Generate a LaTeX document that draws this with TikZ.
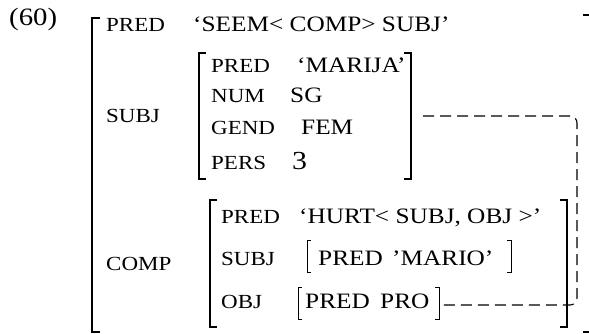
\documentclass[tikz,border=0pt]{standalone}
\usepackage{fontspec}
\setmainfont{Liberation Serif}[FakeStretch=1.15]
\usetikzlibrary{positioning}

\begin{document}
\begin{tikzpicture}[x=1pt, y=-1pt, every node/.style={inner sep=0pt, anchor=base west, font=\fontsize{22}{24}\selectfont}]
\useasboundingbox (0,0) rectangle (589,334);

\tikzstyle{attr}=[font=\fontsize{20}{22}\selectfont]
\tikzstyle{big bracket}=[line width=1.5pt]
\tikzstyle{small bracket}=[line width=0.8pt]
\tikzstyle{share}=[dash pattern=on 11pt off 6pt, line width=1.1pt, rounded corners=7pt]
\tikzstyle{bignum}=[font=\fontsize{26}{28}\selectfont]

% number of the example
\node[font=\fontsize{25}{27}\selectfont] (num) at (9,26) {(60)};

% outer structure
\draw[big bracket] (100,18) -| (92,332) -- (100,332);
\draw[big bracket] (583,15) -| (590,332) -- (583,332);
\node[attr] (pred) at (106,32) {PRED};
\node (seem) at (193,32) {‘SEEM< COMP> SUBJ’};
\node[attr] (subj) at (106,123) {SUBJ};
\node[attr] (comp) at (106,270) {COMP};

% SUBJ f-structure
\draw[big bracket] (206,53) -| (199,179) -- (206,179);
\draw[big bracket] (404,53) -| (411,179) -- (404,179);
\node[attr] (spred) at (211,73) {PRED};
\node (marija) at (297,73) {‘MARIJA’};
\node[attr] (snum) at (211,103) {NUM};
\node (sg) at (290,103) {SG};
\node[attr] (sgend) at (211,135) {GEND};
\node (fem) at (301,135) {FEM};
\node[attr] (spers) at (211,170) {PERS};
\node[bignum] (three) at (292,170) {3};

% COMP f-structure
\draw[big bracket] (217,200) -| (210,327) -- (217,327);
\draw[big bracket] (560,200) -| (567,327) -- (560,327);
\node[attr] (cpred) at (221,223) {PRED};
\node (hurt) at (299,223) {‘HURT< SUBJ, OBJ >’};
\node[attr] (csubj) at (221,265) {SUBJ};
\node[attr] (cobj) at (221,308) {OBJ};

% SUBJ of COMP
\draw[small bracket] (311,240) -| (307,272) -- (311,272);
\draw[small bracket] (507,240) -| (511,272) -- (507,272);
\node (mpred) at (318,265) {PRED};
\node (mario) at (392,265) {’MARIO’};

% OBJ of COMP
\draw[small bracket] (302,287) -| (298,319) -- (302,319);
\draw[small bracket] (435,287) -| (439,319) -- (435,319);
\node (opred) at (305,308) {PRED};
\node (pro) at (380,308) {PRO};

% structure sharing
\coordinate (subjF) at (423,116);
\coordinate (proF) at (440,305);
\coordinate (rail) at (577,305);
\draw[share] (subjF) -| (rail) -- (proF);

\end{tikzpicture}
\end{document}
